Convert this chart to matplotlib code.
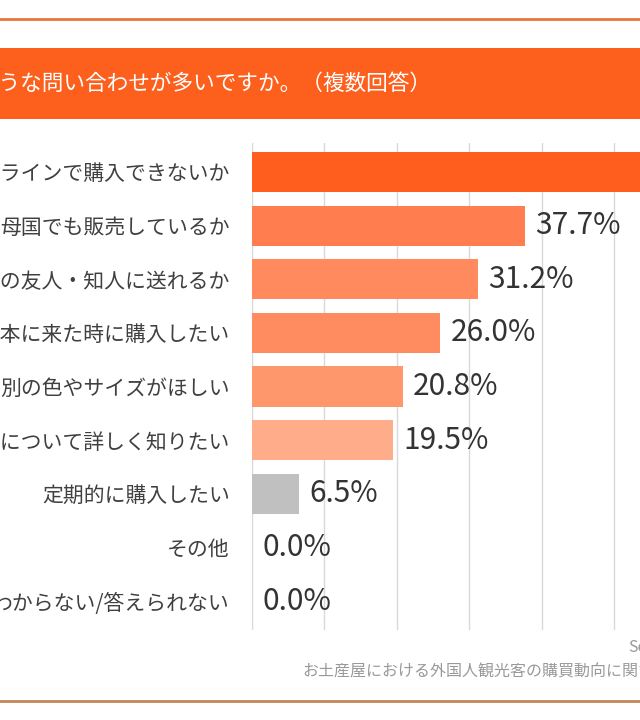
import matplotlib.pyplot as plt
import matplotlib.patches as patches
from matplotlib.lines import Line2D

plt.rcParams['font.family'] = ['Noto Sans CJK JP', 'DejaVu Sans']

title = "外国人観光客からはどのような問い合わせが多いですか。（複数回答）"
labels = [
    "オンラインで購入できないか",
    "母国でも販売しているか",
    "母国の友人・知人に送れるか",
    "また日本に来た時に購入したい",
    "別の色やサイズがほしい",
    "商品について詳しく知りたい",
    "定期的に購入したい",
    "その他",
    "わからない/答えられない",
]
values = [58.4, 37.7, 31.2, 26.0, 20.8, 19.5, 6.5, 0.0, 0.0]
colors = ["#FF5E1F", "#FF7D4E", "#FF8A5E", "#FF8C60", "#FF976C", "#FFAC8B",
          "#C0C0C0", "#C0C0C0", "#C0C0C0"]
source_line1 = "Source:"
source_line2 = "お土産屋における外国人観光客の購買動向に関する調査"

W, H = 640, 720
fig = plt.figure(figsize=(W / 100, H / 100), dpi=100)
fig.patch.set_facecolor("white")

def fx(px):
    return px / W

def fy(py):
    return 1 - py / H

# top and bottom rule lines
fig.add_artist(Line2D([0, 1], [fy(19), fy(19)], color="#E8763C", lw=2))
fig.add_artist(Line2D([0, 1], [fy(701), fy(701)], color="#C4875A", lw=2))

# title band
fig.add_artist(patches.Rectangle((0, fy(119)), 1, (119 - 48) / H,
                                 facecolor="#FD5F1C", edgecolor="none",
                                 transform=fig.transFigure))
fig.text(fx(431), fy(84), title, color="white", fontsize=15.6,
         ha="right", va="center")

# bar axes: 10% = 72.4 px
px_per_unit = 7.24
xmax = 60
left, top, bottom = 252, 143, 630
ax = fig.add_axes([fx(left), fy(bottom), xmax * px_per_unit / W, (bottom - top) / H])
ypos = list(range(len(labels)))
ax.barh(ypos, values, height=0.746, color=colors, zorder=3)
ax.set_xlim(0, xmax)
ax.set_ylim(len(labels) - 0.46, -0.54)
ax.set_xticks(range(0, xmax + 1, 10))
ax.set_xticklabels([])
ax.set_yticks(ypos)
ax.set_yticklabels(labels, fontsize=15, color="#404040")
ax.tick_params(axis="both", length=0, pad=16)
ax.grid(axis="x", color="#D9D9D9", lw=1, zorder=0)
for s in ax.spines.values():
    s.set_visible(False)

for y, v in zip(ypos, values):
    ax.annotate(f"{v:.1f}%", (v, y), xytext=(7.5, 0), textcoords="offset points",
                ha="left", va="center", fontsize=21.5, color="#333333")

fig.text(fx(628), fy(648), source_line1, color="#999999", fontsize=11.5,
         ha="left", va="center")
fig.text(fx(302), fy(672), source_line2, color="#999999", fontsize=11.5,
         ha="left", va="center")

fig.savefig("out.png", dpi=100)
